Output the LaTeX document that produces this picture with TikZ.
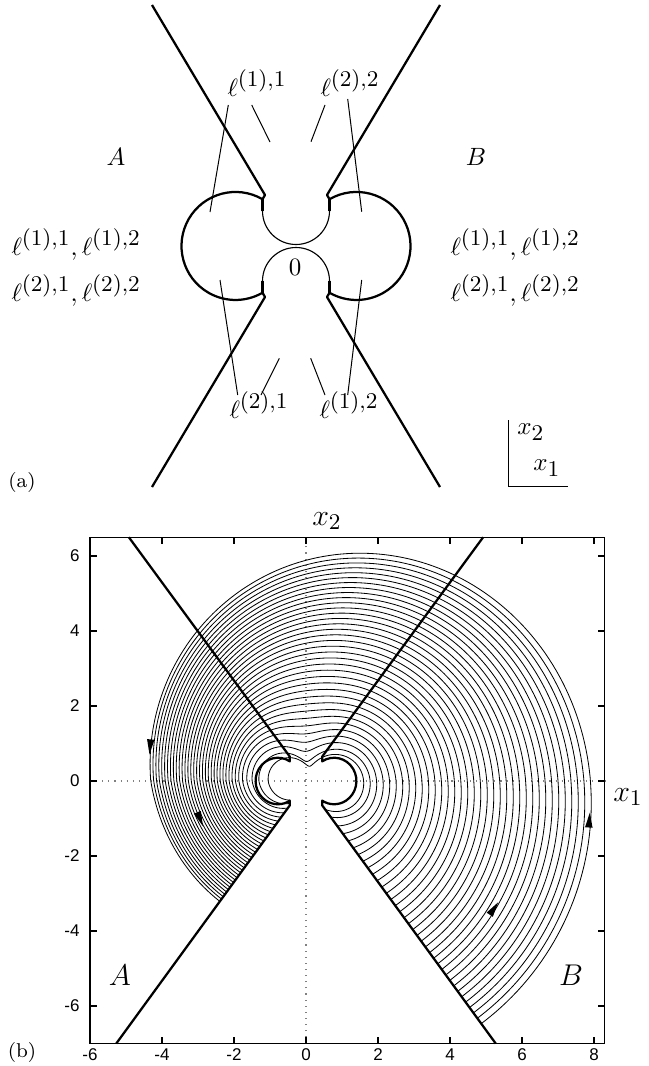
\documentclass[tikz,border=0pt]{standalone}
\usepackage{fontspec}
\newfontfamily\tickfont{Liberation Sans}
\DeclareMathSizes{10}{10}{9}{7}
\DeclareMathSizes{12}{12}{9}{7}
\begin{document}
\begin{tikzpicture}[x=0.4pt,y=-0.4pt,
  thickline/.style={line width=0.9pt, line join=round},
  thinarc/.style={line width=0.45pt},
  leader/.style={line width=0.4pt},
  curve/.style={line width=0.33pt},
  axisbox/.style={line width=0.5pt},
  tick/.style={line width=0.5pt},
  dotaxis/.style={gray, dotted, line width=0.45pt},
  lbl/.style={inner sep=0pt},
  ticklbl/.style={inner sep=0pt, font=\tickfont\fontsize{6.8}{8}\selectfont},
  tip/.style={fill=black}]
\useasboundingbox (0,0) rectangle (648,1066);

%% ---------------- part (a) ----------------
\draw[thickline] (152,5) -- (265,195) -- (262.5,199.2)
   arc[start angle=-60, end angle=-300, radius=54] -- (265,297) -- (152,487);
\draw[thickline] (440,5) -- (327,195) -- (329.5,199.2)
   arc[start angle=240, end angle=480, radius=54] -- (327,297) -- (440,487);
\draw[thickline] (262.5,199.2) -- (262.5,211);
\draw[thickline] (262.5,281) -- (262.5,292.7);
\draw[thickline] (329.5,199.2) -- (329.5,211);
\draw[thickline] (329.5,281) -- (329.5,292.7);
\draw[thinarc] (262.5,211) arc[start angle=180, end angle=0, radius=33.5];
\draw[thinarc] (262.5,281) arc[start angle=180, end angle=360, radius=33.5];

\node[lbl, anchor=base west] (l11) at (227,96) {$\ell^{(1),1}$};
\node[lbl, anchor=base west] (l22) at (320,96) {$\ell^{(2),2}$};
\node[lbl, anchor=base west] (l21) at (229,418) {$\ell^{(2),1}$};
\node[lbl, anchor=base west] (l12) at (319,418) {$\ell^{(1),2}$};

\coordinate (a1s) at (228.3,105); \coordinate (a1e) at (210,212);
\coordinate (a2s) at (251.7,105); \coordinate (a2e) at (270,142);
\coordinate (a3s) at (325,105);   \coordinate (a3e) at (311,141.7);
\coordinate (a4s) at (347.7,99);  \coordinate (a4e) at (361.7,211.7);
\coordinate (b1s) at (220,280);   \coordinate (b1e) at (237.7,395);
\coordinate (b2s) at (279.3,358.3); \coordinate (b2e) at (261,395);
\coordinate (b3s) at (310.7,358.3); \coordinate (b3e) at (325,395);
\coordinate (b4s) at (361.7,280); \coordinate (b4e) at (347.7,395);
\draw[leader] (a1s) -- (a1e);
\draw[leader] (a2s) -- (a2e);
\draw[leader] (a3s) -- (a3e);
\draw[leader] (a4s) -- (a4e);
\draw[leader] (b1s) -- (b1e);
\draw[leader] (b2s) -- (b2e);
\draw[leader] (b3s) -- (b3e);
\draw[leader] (b4s) -- (b4e);

\node (A) at (116,157) {$A$};
\node (B) at (476,157) {$B$};
\node[lbl, anchor=base west] (LA1) at (11,255) {$\ell^{(1),1}, \ell^{(1),2}$};
\node[lbl, anchor=base west] (LA2) at (11,301) {$\ell^{(2),1}, \ell^{(2),2}$};
\node[lbl, anchor=base west] (LB1) at (450,255) {$\ell^{(1),1}, \ell^{(1),2}$};
\node[lbl, anchor=base west] (LB2) at (450,301) {$\ell^{(2),1}, \ell^{(2),2}$};
\node (zero) at (295,267) {$0$};

\coordinate (mtop) at (508,420);
\coordinate (morig) at (508,486);
\coordinate (mright) at (568,486);
\draw[leader] (mtop) -- (morig) -- (mright);
\node (mx2) at (531,432) {$x_2$};
\node (mx1) at (547,468) {$x_1$};
\node (la) at (22,482) {\footnotesize (a)};

%% ---------------- part (b) ----------------
\node (bx2) at (327,521) {\large $x_2$};
\node (bx1) at (628,797) {\large $x_1$};
\node (lb) at (22,1052) {\footnotesize (b)};
\foreach \v/\t in {-6/-6,-4/-4,-2/-2,0/0,2/2,4/4,6/6,8/8}{
  \node[ticklbl] (xt\t) at ({306+36*\v},1055) {\t};
}
\foreach \v/\t in {-6/-6,-4/-4,-2/-2,0/0,2/2,4/4,6/6}{
  \node[ticklbl, anchor=east] (yt\t) at (80,{781-37.5*\v}) {\t};
}

\begin{scope}[shift={(306,781)}, x=14.4pt, y=15pt]
  \draw[dotaxis] (0,-7) -- (0,6.5);
  \draw[dotaxis] (-6,0) -- (8.3,0);
  \begin{scope}
    \clip (-6,-7) -- (-5.27,-7) -- (-0.45,-0.65) -- (-0.45,0) -- (0.45,0)
      -- (0.45,-0.65) -- (5.27,-7) -- (8.3,-7) -- (8.3,6.5) -- (-6,6.5) -- cycle;
    \foreach \k in {0,...,35}{
      \pgfmathsetmacro\tk{\k/35}
      \pgfmathsetmacro\xR{1.6+0.18*\k}
      \pgfmathsetmacro\xL{-1.5-0.0803*\k+0.45*exp(-\k/2)}
      \pgfmathsetmacro\SS{(\xR-\xL)/1.766}
      \pgfmathsetmacro\qq{min(1.255*(1-\tk)*(1-\tk)*(1-\tk), \SS-0.45)}
      \pgfmathsetmacro\pp{\SS-\qq}
      \pgfmathsetmacro\dd{\xR-\SS}
      \draw[curve] plot[domain=-100:250, samples=220, variable=\t]
        ({\dd + (\pp + \qq*(sqrt(cos(\t)*cos(\t)+0.25)-0.5)/0.618)*exp(-0.0014835*(\t) - 0.0014661*max(0,(\t)-180))*cos(\t)},
         {(\pp + \qq*(sqrt(cos(\t)*cos(\t)+0.25)-0.5)/0.618)*exp(-0.0014835*(\t) - 0.0014661*max(0,(\t)-180))*sin(\t)});
    }
  \end{scope}
  % switching lines and circles
  \draw[thickline] (-4.92,6.5) -- (-0.45,0.65) -- (-0.45,0.525)
     arc[start angle=57.8, end angle=302.2, radius=0.62] -- (-0.45,-0.65) -- (-5.27,-7);
  \draw[thickline] (4.92,6.5) -- (0.45,0.65) -- (0.45,0.525)
     arc[start angle=122.2, end angle=-122.2, radius=0.62] -- (0.45,-0.65) -- (5.27,-7);
  % box and ticks
  \draw[axisbox] (-6,-7) rectangle (8.3,6.5);
  \foreach \v in {-4,-2,0,2,4,6,8}{
    \draw[tick] (\v,-7) -- ++(0,2.8pt);
    \draw[tick] (\v,6.5) -- ++(0,-2.8pt);
  }
  \foreach \v in {-6,-4,-2,0,2,4,6}{
    \draw[tick] (-6,\v) -- ++(2.8pt,0);
    \draw[tick] (8.3,\v) -- ++(-2.8pt,0);
  }
  % direction arrowheads
  \foreach \px/\py/\ang in {-4.33/0.91/265, -2.94/-1.02/-68, 7.87/-1.04/86, 5.22/-3.4/56}{
    \fill[tip, shift={(\px,\py)}, rotate=\ang] (3pt,0) -- (-3pt,1.5pt) -- (-3pt,-1.5pt) -- cycle;
  }
  \node (bA) at (-5.17,-5.18) {\large $A$};
  \node (bB) at (7.36,-5.18) {\large $B$};
\end{scope}
\end{tikzpicture}
\end{document}
